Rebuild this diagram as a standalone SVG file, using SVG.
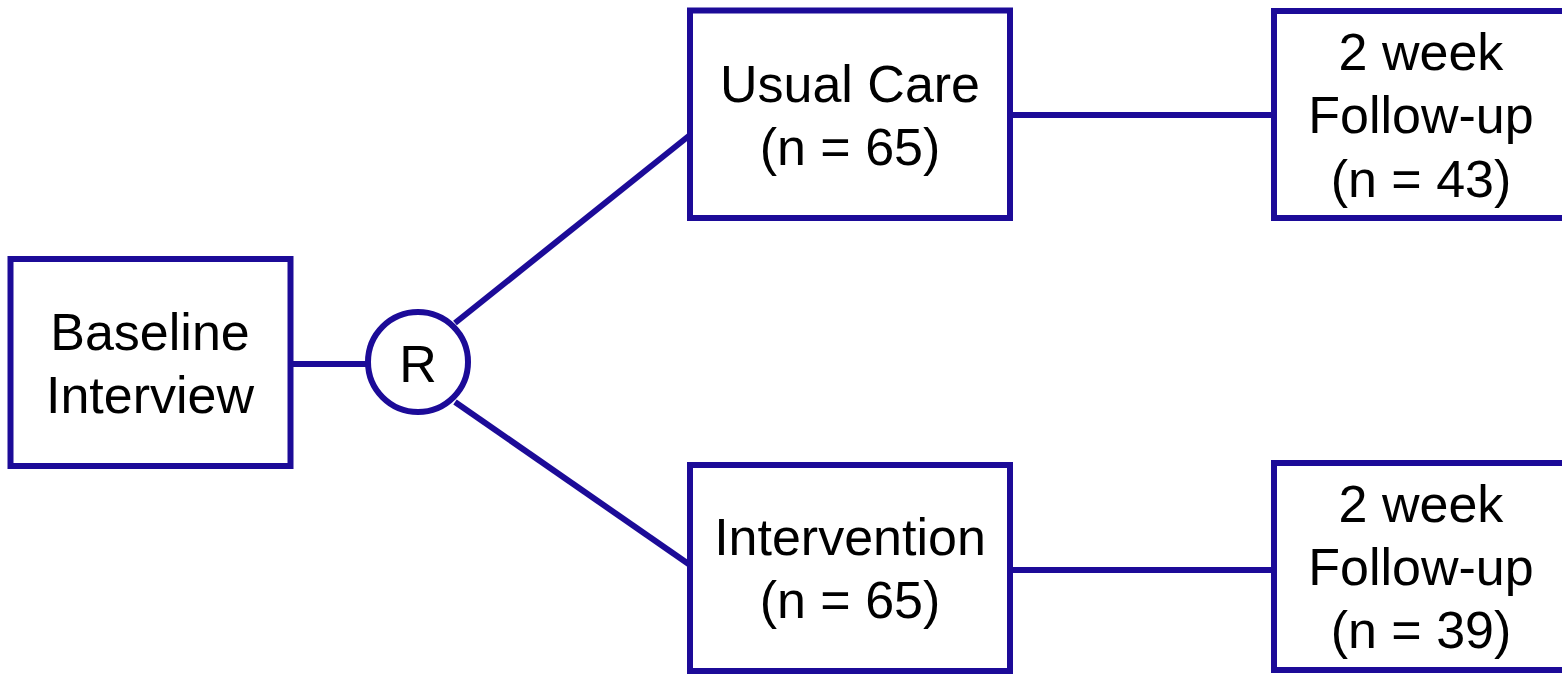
<svg xmlns="http://www.w3.org/2000/svg" width="1562" height="676" viewBox="0 0 1562 676">
<style>
.box{fill:#fff;stroke:#1c0b98;stroke-width:6}
.conn{stroke:#1c0b98;stroke-width:6;fill:none}
text{font-family:"Liberation Sans",Arial,sans-serif;font-size:52px;fill:#000;text-anchor:middle}
</style>
<rect width="1562" height="676" fill="#fff"/>
<g id="connectors">
<line class="conn" x1="290" y1="364" x2="370" y2="364"/>
<line class="conn" x1="455" y1="323" x2="690" y2="135"/>
<line class="conn" x1="455" y1="402" x2="690" y2="565"/>
<line class="conn" x1="1010" y1="115" x2="1274" y2="115"/>
<line class="conn" x1="1010" y1="570" x2="1274" y2="570"/>
</g>
<g id="baseline">
<rect class="box" x="10.5" y="259" width="280" height="207"/>
<text x="150" y="350">Baseline</text>
<text x="150" y="413">Interview</text>
</g>
<g id="randomize">
<circle class="box" cx="418" cy="362" r="50"/>
<text x="418" y="382">R</text>
</g>
<g id="usual-care">
<rect class="box" x="690" y="10.5" width="320" height="207.5"/>
<text x="850" y="102">Usual Care</text>
<text x="850" y="165">(n = 65)</text>
</g>
<g id="intervention">
<rect class="box" x="690" y="465" width="320" height="206"/>
<text x="850" y="555">Intervention</text>
<text x="850" y="618">(n = 65)</text>
</g>
<g id="followup-1">
<rect class="box" x="1274" y="11" width="320" height="207"/>
<text x="1421" y="70">2 week</text>
<text x="1421" y="133">Follow-up</text>
<text x="1421" y="197">(n = 43)</text>
</g>
<g id="followup-2">
<rect class="box" x="1274" y="463" width="320" height="207"/>
<text x="1421" y="522">2 week</text>
<text x="1421" y="585">Follow-up</text>
<text x="1421" y="648">(n = 39)</text>
</g>
</svg>
